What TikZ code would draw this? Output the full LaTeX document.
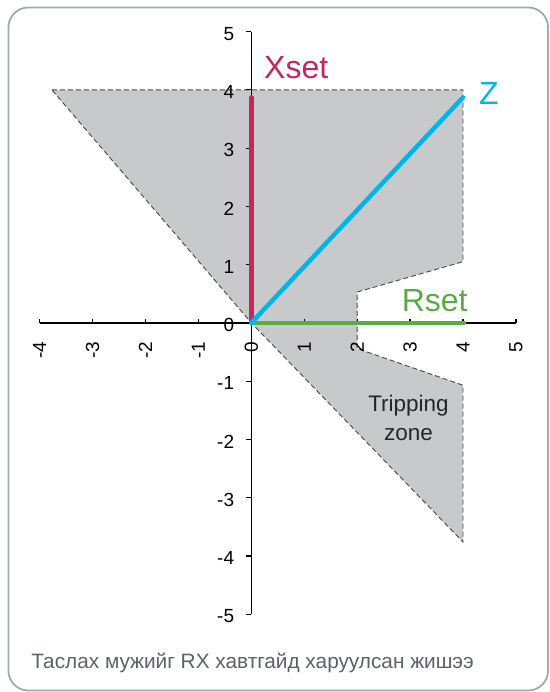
\documentclass[tikz,border=0pt]{standalone}
\usepackage{fontspec}
\setmainfont{Liberation Sans}
\usepackage{tikz}
\usepackage{xcolor}

\definecolor{xsetred}{HTML}{C4275A}
\definecolor{zblue}{HTML}{00B6E8}
\definecolor{rsetgreen}{HTML}{5AAA46}
\definecolor{zonegray}{HTML}{C8C9CB}
\definecolor{framegray}{HTML}{A2A9AE}
\definecolor{captiongray}{HTML}{5A6168}

\begin{document}
\begin{tikzpicture}[x=52.91pt,y=58.26pt,
    zone/.style={fill=zonegray,draw=black!72,dash pattern=on 5pt off 3pt,line width=0.9pt},
    axisline/.style={line width=1.5pt},
    tickmark/.style={line width=1.2pt},
    xlbl/.style={yshift=-18.5pt,rotate=90,anchor=east,inner sep=0pt,font=\fontsize{19}{19}\selectfont},
    ylbl/.style={xshift=-17pt,yshift=-2pt,anchor=east,inner sep=0pt,font=\fontsize{19}{19}\selectfont},
    setline/.style={line width=4.5pt,line cap=round},
    setlbl/.style={anchor=base west,inner sep=0pt,font=\fontsize{32}{32}\selectfont}]
    \useasboundingbox (-4.750,-6.335) rectangle (5.627,5.542);

    % Frame
    \draw[framegray,line width=1.8pt,rounded corners=20pt] (-4.591,-6.310) rectangle (5.608,5.414);

    % Tripping zone
    \coordinate (O) at (0,0);
    \filldraw[zone] (-3.77,4) -- (4,4) -- (4,1.05) -- (2,0.53) -- (2,-0.44)
        -- (4,-1.07) -- (4,-3.76) -- (O) -- cycle;
    \node[anchor=north,align=center,inner sep=0pt,text=black!85,
        font=\fontsize{22.5}{29}\selectfont] (zonelbl) at (2.97,-1.235) {Tripping\\zone};

    % Axes
    \draw[axisline] (-4,0) -- (5,0);
    \draw[axisline] (0,-5) -- (0,5);

    % R ticks
    \draw[tickmark] (-4,0) -- ++(0,4pt); \node[xlbl] (xlm4) at (-4,0) {-4};
    \draw[tickmark] (-3,0) -- ++(0,4pt); \node[xlbl] (xlm3) at (-3,0) {-3};
    \draw[tickmark] (-2,0) -- ++(0,4pt); \node[xlbl] (xlm2) at (-2,0) {-2};
    \draw[tickmark] (-1,0) -- ++(0,4pt); \node[xlbl] (xlm1) at (-1,0) {-1};
    \node[xlbl] (xl0) at (0,0) {0};
    \draw[tickmark] (1,0) -- ++(0,4pt); \node[xlbl] (xl1) at (1,0) {1};
    \draw[tickmark] (2,0) -- ++(0,4pt); \node[xlbl] (xl2) at (2,0) {2};
    \draw[tickmark] (3,0) -- ++(0,4pt); \node[xlbl] (xl3) at (3,0) {3};
    \draw[tickmark] (4,0) -- ++(0,4pt); \node[xlbl] (xl4) at (4,0) {4};
    \draw[tickmark] (5,0) -- ++(0,4pt); \node[xlbl] (xl5) at (5,0) {5};

    % X ticks
    \draw[tickmark] (0,5) -- ++(-5pt,0); \node[ylbl] (yl5) at (0,5) {5};
    \draw[tickmark] (0,4) -- ++(-5pt,0); \node[ylbl] (yl4) at (0,4) {4};
    \draw[tickmark] (0,3) -- ++(-5pt,0); \node[ylbl] (yl3) at (0,3) {3};
    \draw[tickmark] (0,2) -- ++(-5pt,0); \node[ylbl] (yl2) at (0,2) {2};
    \draw[tickmark] (0,1) -- ++(-5pt,0); \node[ylbl] (yl1) at (0,1) {1};
    \node[ylbl] (yl0) at (0,0) {0};
    \draw[tickmark] (0,-1) -- ++(-5pt,0); \node[ylbl] (ylm1) at (0,-1) {-1};
    \draw[tickmark] (0,-2) -- ++(-5pt,0); \node[ylbl] (ylm2) at (0,-2) {-2};
    \draw[tickmark] (0,-3) -- ++(-5pt,0); \node[ylbl] (ylm3) at (0,-3) {-3};
    \draw[tickmark] (0,-4) -- ++(-5pt,0); \node[ylbl] (ylm4) at (0,-4) {-4};
    \draw[tickmark] (0,-5) -- ++(-5pt,0); \node[ylbl] (ylm5) at (0,-5) {-5};

    % Settings and impedance
    \coordinate (xtop) at (0,3.87);
    \coordinate (ztop) at (4,3.87);
    \coordinate (rend) at (4.02,0);
    \draw[setline,xsetred] (O) -- (xtop);
    \draw[setline,rsetgreen] (O) -- (rend);
    \draw[setline,zblue] (O) -- (ztop);
    \node[setlbl,text=xsetred] (xsetlbl) at (0.24,4.2) {Xset};
    \node[setlbl,text=zblue] (zlbl) at (4.30,3.75) {Z};
    \node[setlbl,text=rsetgreen] (rsetlbl) at (2.84,0.19) {Rset};

    % Caption
    \node[anchor=base west,inner sep=0pt,text=captiongray,font=\fontsize{20.8}{20.8}\selectfont]
        (caption) at (-4.16,-5.929) {Таслах мужийг RX хавтгайд харуулсан жишээ};
\end{tikzpicture}
\end{document}
